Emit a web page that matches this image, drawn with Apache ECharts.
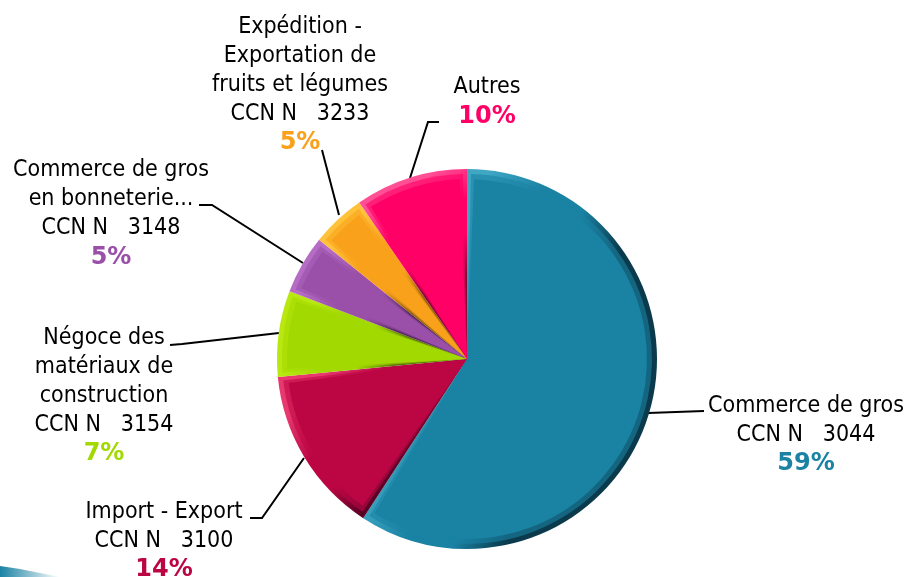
<!DOCTYPE html>
<html>
<head>
<meta charset="utf-8">
<style>
html, body { margin: 0; background: #fff; }
#chart { width: 909px; height: 577px; }
</style>
<script src="https://cdn.jsdelivr.net/npm/echarts@6/dist/echarts.min.js"></script>
</head>
<body>
<div id="chart"></div>
<script>
const names = [
    'Commerce de gros\nCCN N   3044',
    'Import - Export\nCCN N   3100',
    'Négoce des\nmatériaux de\nconstruction\nCCN N   3154',
    'Commerce de gros\nen bonneterie...\nCCN N   3148',
    'Expédition -\nExportation de\nfruits et légumes\nCCN N   3233',
    'Autres'
];
const shares = [59.2, 14.3, 7.3, 5.0, 4.6, 9.6];

const colors = ['#1a82a3', '#bc0644', '#a2d900', '#9a50a8', '#f9a11b', '#ff0066'];
const lights = ['#3fa6c4', '#e8386f', '#b8e810', '#b56cc4', '#ffc23a', '#ff4f95'];
const darks = ['#0a3a4c', '#5a0226', '#5c7a00', '#57285f', '#95600a', '#8a0038'];
// gradient direction of the bevel for each slice, light side to dark side
const bevelDir = [[0, 0.45, 1, 0.75], [0, 0, 1, 1], [0, 0, 1, 1], [0, 0, 1, 1], [0, 0, 1, 1], [0, 0, 1, 1]];

// label centre and leader line, in page pixels
const labelPos = [[806, 435], [164, 541], [104, 396], [111, 214], [300, 85], [487, 102]];
const leaders = [
    [[648, 413], [704, 411]],
    [[304, 458], [262, 518], [250, 518]],
    [[279, 333], [182, 344], [170, 345]],
    [[303, 263], [212, 205], [199, 205]],
    [[339, 215], [322, 150]],
    [[410, 178], [428, 122], [439, 122]]
];

const center = [467, 359];
const chart = echarts.init(document.getElementById('chart'));

const rich = { t: { fontSize: 23, lineHeight: 29, color: '#000', fontFamily: 'DejaVu Sans Condensed' } };
colors.forEach((c, i) => {
    rich['p' + i] = { fontSize: 24, lineHeight: 29, color: c, fontWeight: 'bold', fontFamily: 'DejaVu Sans' };
});

function layer(radius, padAngle, itemFor) {
    return {
        type: 'pie',
        center: center,
        radius: radius,
        padAngle: padAngle,
        startAngle: 90,
        silent: true,
        label: { show: false },
        labelLine: { show: false },
        data: shares.map((v, i) => ({ name: names[i], value: v, itemStyle: itemFor(i) }))
    };
}

const bevel = layer(190, 0, i => ({
    color: new echarts.graphic.LinearGradient(bevelDir[i][0], bevelDir[i][1], bevelDir[i][2], bevelDir[i][3], [
        { offset: 0, color: lights[i] },
        { offset: 0.18, color: lights[i] },
        { offset: 0.36, color: colors[i] },
        { offset: 0.5, color: colors[i] },
        { offset: 0.66, color: darks[i] },
        { offset: 1, color: darks[i] }
    ])
}));
const soft = layer(185, 2.5, i => ({ color: colors[i], opacity: 0.6 }));
const face = layer(180, 4.5, i => ({ color: colors[i] }));

const labels = layer(190, 0, i => ({ color: 'rgba(0,0,0,0)' }));
labels.label = {
    show: true,
    align: 'center',
    formatter: p => p.name.split('\n').map(l => '{t|' + l + '}').join('\n')
        + '\n{p' + p.dataIndex + '|' + Math.round(p.value) + '%}',
    rich: rich
};
labels.labelLine = { show: true, lineStyle: { color: '#000', width: 2 } };
labels.labelLayout = p => ({
    x: labelPos[p.dataIndex][0],
    y: labelPos[p.dataIndex][1],
    align: 'center',
    verticalAlign: 'middle',
    labelLinePoints: leaders[p.dataIndex]
});

chart.setOption({
    animation: false,
    backgroundColor: '#fff',
    graphic: [{
        type: 'polygon',
        silent: true,
        shape: { points: [[0, 566], [20, 569], [60, 577], [0, 577]] },
        style: {
            fill: new echarts.graphic.LinearGradient(0, 0, 1, 0, [
                { offset: 0, color: '#1a82a3' },
                { offset: 1, color: '#ffffff' }
            ])
        }
    }],
    series: [bevel, soft, face, labels]
});
</script>
</body>
</html>
